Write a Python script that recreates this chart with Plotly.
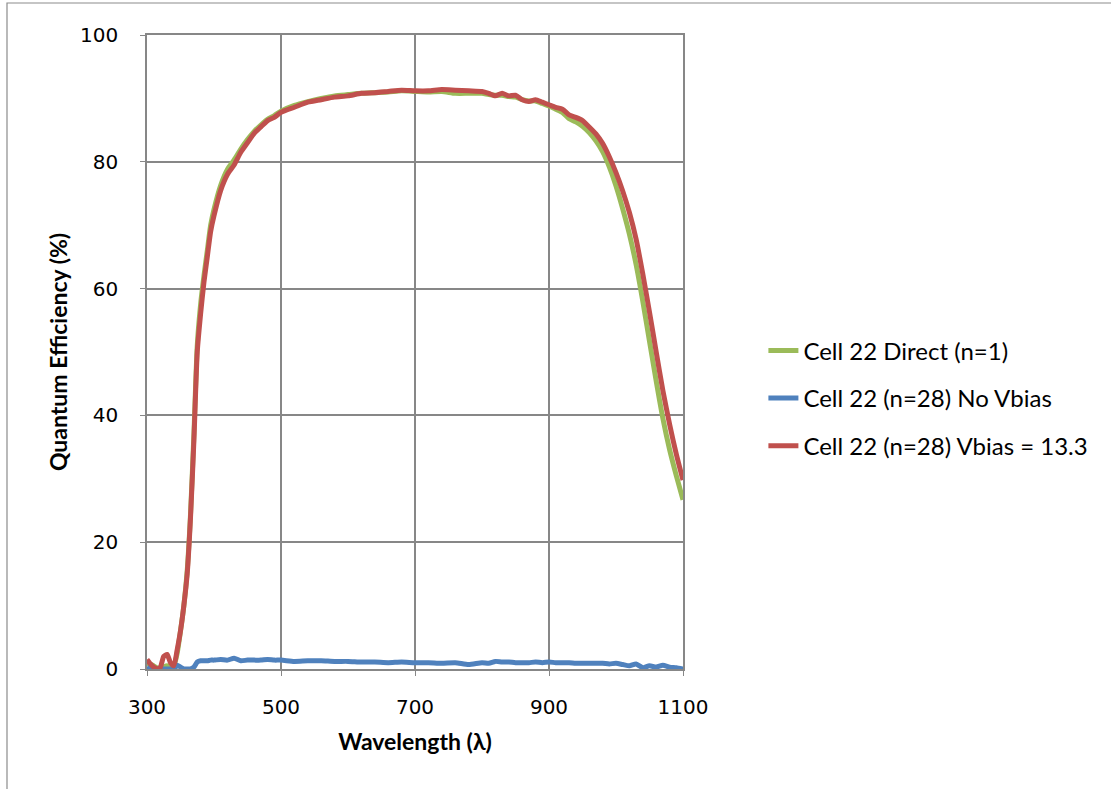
import plotly.graph_objects as go

wavelength = [300, 305, 310, 315, 320, 325, 330, 335, 340, 345, 350, 355, 360, 365, 370, 375, 380, 385, 390, 395, 400,
              410, 420, 430, 440, 450, 460, 470, 480, 490, 500,
              520, 540, 560, 580, 600, 620, 640, 660, 680, 700, 720, 740, 760, 780, 800,
              810, 820, 830, 840, 850, 860, 870, 880, 890, 900, 910, 920, 930, 940, 950, 960, 970, 980, 990, 1000,
              1010, 1020, 1030, 1040, 1050, 1060, 1070, 1080, 1090, 1100]

direct_n1 = [0.5, 0.8, 0.5, 0.2, 0.0, 0.3, 0.5, 0.3, 0.5, 2.5, 6.0, 10.0, 15.5, 24.5, 37.0, 51.0, 57.5, 62.0, 66.0, 70.0, 72.5,
             76.3, 78.8, 80.3, 82.0, 83.5, 84.8, 85.8, 86.7, 87.3, 88.0,
             88.9, 89.5, 90.0, 90.4, 90.6, 90.8, 90.9, 91.0, 91.2, 91.1, 91.0, 91.1, 90.8, 90.8, 90.8,
             90.6, 90.5, 90.5, 90.3, 90.2, 89.8, 89.6, 89.6, 89.2, 88.8, 88.3, 87.8, 86.8, 86.3, 85.6, 84.6, 83.3, 81.6, 79.2, 76.2,
             72.6, 68.6, 63.8, 58.0, 51.7, 45.4, 39.5, 34.6, 30.5, 26.7]

no_vbias = [0.3, 0.0, 0.0, 0.0, 0.0, 0.0, 0.0, 0.0, 0.0, 0.6, 0.3, 0.0, 0.0, 0.0, 0.3, 1.1, 1.3, 1.3, 1.3, 1.4, 1.4,
            1.5, 1.4, 1.7, 1.3, 1.4, 1.4, 1.4, 1.5, 1.4, 1.4,
            1.2, 1.3, 1.3, 1.2, 1.2, 1.1, 1.1, 1.0, 1.1, 1.0, 1.0, 0.9, 1.0, 0.7, 1.0,
            0.9, 1.2, 1.1, 1.1, 1.0, 1.0, 1.0, 1.1, 1.0, 1.1, 1.0, 1.0, 1.0, 0.9, 0.9, 0.9, 0.9, 0.9, 0.8, 0.9,
            0.7, 0.5, 0.8, 0.2, 0.5, 0.3, 0.6, 0.3, 0.2, 0.0]

vbias_13_3 = [1.5, 0.8, 0.3, 0.0, 0.3, 2.0, 2.3, 1.0, 0.5, 3.0, 6.0, 10.0, 15.0, 24.0, 36.0, 50.0, 56.0, 61.0, 65.0, 69.0, 71.5,
              75.5, 78.0, 79.5, 81.5, 83.0, 84.5, 85.5, 86.5, 87.0, 87.8,
              88.6, 89.4, 89.8, 90.2, 90.4, 90.8, 90.9, 91.1, 91.3, 91.2, 91.2, 91.4, 91.3, 91.2, 91.1,
              90.8, 90.4, 90.8, 90.4, 90.5, 89.8, 89.5, 89.8, 89.4, 89.0, 88.6, 88.3, 87.4, 87.0, 86.5, 85.5, 84.4, 82.9, 80.8, 78.3,
              75.4, 72.0, 67.8, 62.3, 56.3, 50.0, 43.9, 38.6, 33.9, 29.8]

names = ["Cell 22 Direct (n=1)", "Cell 22 (n=28) No Vbias", "Cell 22 (n=28) Vbias = 13.3"]
colors = ["#9BBB59", "#4F81BD", "#C0504D"]
series = [direct_n1, no_vbias, vbias_13_3]

fig = go.Figure()
for i, (nm, col, ys) in enumerate(zip(names, colors, series)):
    fig.add_trace(go.Scatter(x=wavelength, y=ys, mode="lines", name=nm,
                             legendgroup=f"g{i}",
                             line=dict(color=col, width=5, shape="spline", smoothing=0.6)))

grid = "#878787"
fig.update_layout(
    width=1111, height=789,
    margin=dict(l=147, r=428, t=35, b=120),
    paper_bgcolor="white", plot_bgcolor="white",
    showlegend=True,
    legend=dict(x=1.15, xanchor="left", y=0.427, yanchor="middle",
                font=dict(family="Lato", size=24, color="black"),
                tracegroupgap=13.5, bgcolor="rgba(0,0,0,0)"),
    xaxis=dict(range=[300, 1100], tickvals=[300, 500, 700, 900, 1100],
               showgrid=True, gridcolor=grid, gridwidth=1.5,
               showline=True, linecolor=grid, linewidth=1.5, mirror=True,
               ticks="outside", ticklen=5, tickcolor=grid,
               ticklabelstandoff=14,
               tickfont=dict(family="DejaVu Sans", size=20, color="black"),
               title=dict(text="<b>Wavelength (λ)</b>", standoff=16,
                          font=dict(family="Lato", size=23, color="black")),
               zeroline=False),
    yaxis=dict(range=[0, 100], tickvals=[0, 20, 40, 60, 80, 100],
               showgrid=True, gridcolor=grid, gridwidth=1.5,
               showline=True, linecolor=grid, linewidth=1.5, mirror=True,
               ticks="outside", ticklen=5, tickcolor=grid,
               ticklabelstandoff=18,
               tickfont=dict(family="DejaVu Sans", size=20, color="black"),
               title=dict(text="<b>Quantum Efficiency (%)</b>", standoff=6,
                          font=dict(family="Lato", size=23, color="black")),
               zeroline=False),
)

fig.add_shape(type="rect", xref="paper", yref="paper",
              x0=-0.2612, x1=1.82, y0=-0.21, y1=1.0505,
              line=dict(color="#8c8c8c", width=1.2), fillcolor="rgba(0,0,0,0)", layer="below")

fig.write_html("out.html")
